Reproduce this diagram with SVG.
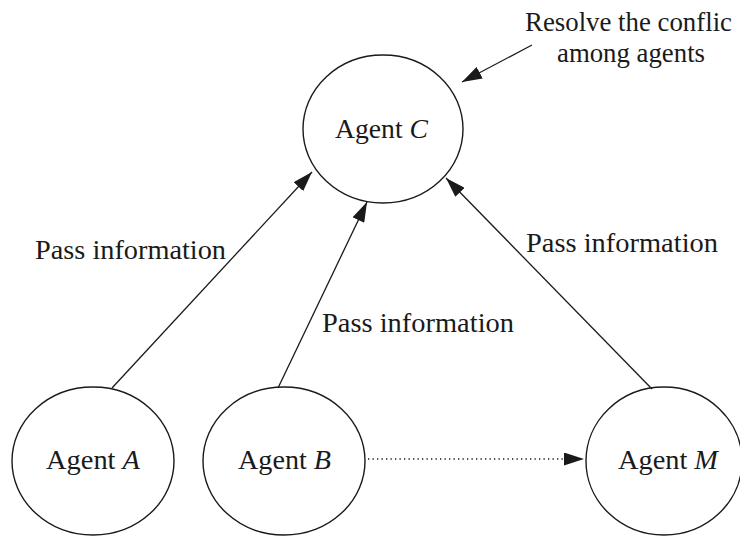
<svg xmlns="http://www.w3.org/2000/svg" width="740" height="536" viewBox="0 0 740 536">
<style>
.node{fill:none;stroke:#1a1a1a;stroke-width:1.4}
.lbl{font-family:"Liberation Serif","Times New Roman",serif;font-size:28px;fill:#1a1a1a}
.it{font-style:italic}
.edge{stroke:#1a1a1a;stroke-width:1.3;fill:none}
.dot{stroke:#1a1a1a;stroke-width:1.3;fill:none;stroke-dasharray:1.3 3.2}
</style>
<defs>
<marker id="ah" viewBox="0 0 20 13" refX="20" refY="6.5" markerWidth="20" markerHeight="13" markerUnits="userSpaceOnUse" orient="auto">
<path d="M0,0 L20,6.5 L0,13 z" fill="#1a1a1a"/>
</marker>
</defs>
<g id="connectors">
<line class="edge" x1="112" y1="388" x2="312" y2="172" marker-end="url(#ah)"/>
<line class="edge" x1="278" y1="388" x2="367" y2="202" marker-end="url(#ah)"/>
<line class="edge" x1="652" y1="389" x2="446" y2="178" marker-end="url(#ah)"/>
<line class="edge" x1="532" y1="45" x2="462" y2="82" marker-end="url(#ah)"/>
<line class="dot" x1="368" y1="459" x2="584" y2="459" marker-end="url(#ah)"/>
<text class="lbl" x="35" y="259" textLength="191" lengthAdjust="spacingAndGlyphs">Pass information</text>
<text class="lbl" x="322" y="332" textLength="192" lengthAdjust="spacingAndGlyphs">Pass information</text>
<text class="lbl" x="526" y="252" textLength="192" lengthAdjust="spacingAndGlyphs">Pass information</text>
</g>
<g id="note">
<text class="lbl" x="525" y="31" textLength="207" lengthAdjust="spacingAndGlyphs">Resolve the conflic</text>
<text class="lbl" x="557" y="62" textLength="148" lengthAdjust="spacingAndGlyphs">among agents</text>
</g>
<g id="agentC">
<ellipse class="node" cx="383" cy="129" rx="80" ry="74"/>
<text class="lbl" x="335" y="138" textLength="93" lengthAdjust="spacingAndGlyphs">Agent <tspan class="it">C</tspan></text>
</g>
<g id="agentA">
<ellipse class="node" cx="93" cy="461" rx="81" ry="74"/>
<text class="lbl" x="46" y="469" textLength="94" lengthAdjust="spacingAndGlyphs">Agent <tspan class="it">A</tspan></text>
</g>
<g id="agentB">
<ellipse class="node" cx="284" cy="461" rx="81" ry="74"/>
<text class="lbl" x="238" y="469" textLength="93" lengthAdjust="spacingAndGlyphs">Agent <tspan class="it">B</tspan></text>
</g>
<g id="agentM">
<ellipse class="node" cx="664" cy="461" rx="78" ry="74"/>
<text class="lbl" x="618" y="469" textLength="100" lengthAdjust="spacingAndGlyphs">Agent <tspan class="it">M</tspan></text>
</g>
</svg>
